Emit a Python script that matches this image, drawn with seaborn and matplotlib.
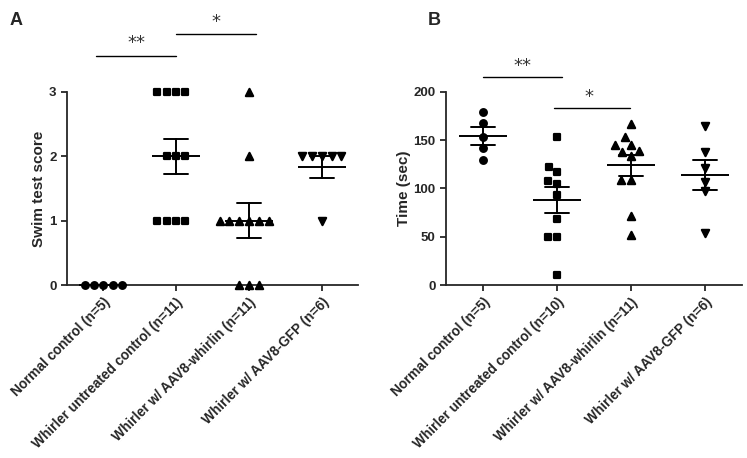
import pandas as pd
import matplotlib
matplotlib.use("Agg")
import matplotlib.pyplot as plt
import seaborn as sns

sns.set_style("ticks")
plt.rcParams['font.family'] = ['Liberation Sans', 'DejaVu Sans']

# Panel A - swim test score
groups_A = ["Normal control (n=5)", "Whirler untreated control (n=11)",
            "Whirler w/ AAV8-whirlin (n=11)", "Whirler w/ AAV8-GFP (n=6)"]
normal_A = [0, 0, 0, 0, 0]
untreated_A = [3, 3, 3, 3, 2, 2, 2, 1, 1, 1, 1]
whirlin_A = [3, 2, 1, 1, 1, 1, 1, 1, 0, 0, 0]
gfp_A = [2, 2, 2, 2, 2, 1]

# Panel B - time (sec)
groups_B = ["Normal control (n=5)", "Whirler untreated control (n=10)",
            "Whirler w/ AAV8-whirlin (n=11)", "Whirler w/ AAV8-GFP (n=6)"]
normal_B = [179, 168, 153, 142, 129]
untreated_B = [153, 122, 117, 108, 105, 93, 68, 50, 50, 10]
whirlin_B = [167, 153, 145, 145, 139, 138, 133, 109, 109, 71, 52]
gfp_B = [165, 138, 121, 107, 97, 54]

markers = ['o', 's', '^', 'v']
msizes = [4.8, 4.8, 5.2, 5.2]


def make_df(groups, values):
    rows = []
    for g, vals in zip(groups, values):
        for v in vals:
            rows.append((g, v))
    return pd.DataFrame(rows, columns=['group', 'value'])


df_A = make_df(groups_A, [normal_A, untreated_A, whirlin_A, gfp_A])
df_B = make_df(groups_B, [normal_B, untreated_B, whirlin_B, gfp_B])

fig = plt.figure(figsize=(7.47, 4.58), dpi=100)
ax1 = fig.add_axes([0.0897, 0.3777, 0.3896, 0.422])
ax2 = fig.add_axes([0.597, 0.3777, 0.396, 0.422])


def draw_panel(ax, df, groups, edge):
    for g, m, ms in zip(groups, markers, msizes):
        sns.swarmplot(data=df[df.group == g], x='group', y='value', order=groups,
                      marker=m, color='black', size=ms, ax=ax, clip_on=False,
                      linewidth=edge, edgecolor='black', warn_thresh=1, zorder=3)
    # mean line with SEM bars
    sns.pointplot(data=df, x='group', y='value', order=groups, errorbar='se',
                  capsize=0.33, linestyle='none', marker='_', markersize=35,
                  markeredgewidth=1.4, color='black', err_kws={'linewidth': 1.4},
                  ax=ax, zorder=4)
    ax.set_xlim(-0.5, 3.5)
    ax.set_xlabel('')
    sns.despine(ax=ax)
    for s in ['left', 'bottom']:
        ax.spines[s].set_linewidth(1.3)
    ax.tick_params(width=1.3, length=4, labelsize=9.5)
    for t in ax.get_yticklabels():
        t.set_fontweight('bold')
    ax.set_xticks(range(len(groups)))
    ax.set_xticklabels(groups, rotation=45, ha='right', va='top',
                       rotation_mode='anchor', fontsize=9.8, fontweight='bold')


draw_panel(ax1, df_A, groups_A, 1.6)
ax1.set_ylim(0, 3)
ax1.set_yticks([0, 1, 2, 3])
ax1.set_ylabel('Swim test score', fontsize=11, fontweight='bold', labelpad=2)

draw_panel(ax2, df_B, groups_B, 1.6)
ax2.set_ylim(0, 200)
ax2.set_yticks([0, 50, 100, 150, 200])
ax2.set_ylabel('Time (sec)', fontsize=11, fontweight='bold', labelpad=2)

# significance annotations
star_kw = dict(ha='center', va='center', fontsize=13, color='#333333',
               family=['DejaVu Sans'])
ax1.plot([-0.1, 1.0], [3.55, 3.55], color='black', lw=1, clip_on=False)
ax1.text(0.45, 3.76, '**', **star_kw)
ax1.plot([1.0, 2.1], [3.9, 3.9], color='black', lw=1, clip_on=False)
ax1.text(1.55, 4.08, '*', **star_kw)

ax2.plot([0.0, 1.07], [215, 215], color='black', lw=1, clip_on=False)
ax2.text(0.53, 227, '**', **star_kw)
ax2.plot([0.96, 1.99], [183, 183], color='black', lw=1, clip_on=False)
ax2.text(1.43, 195, '*', **star_kw)

fig.text(0.013, 0.955, 'A', fontsize=13, fontweight='bold', va='center')
fig.text(0.572, 0.955, 'B', fontsize=13, fontweight='bold', va='center')

fig.savefig('out.png', dpi=100)
